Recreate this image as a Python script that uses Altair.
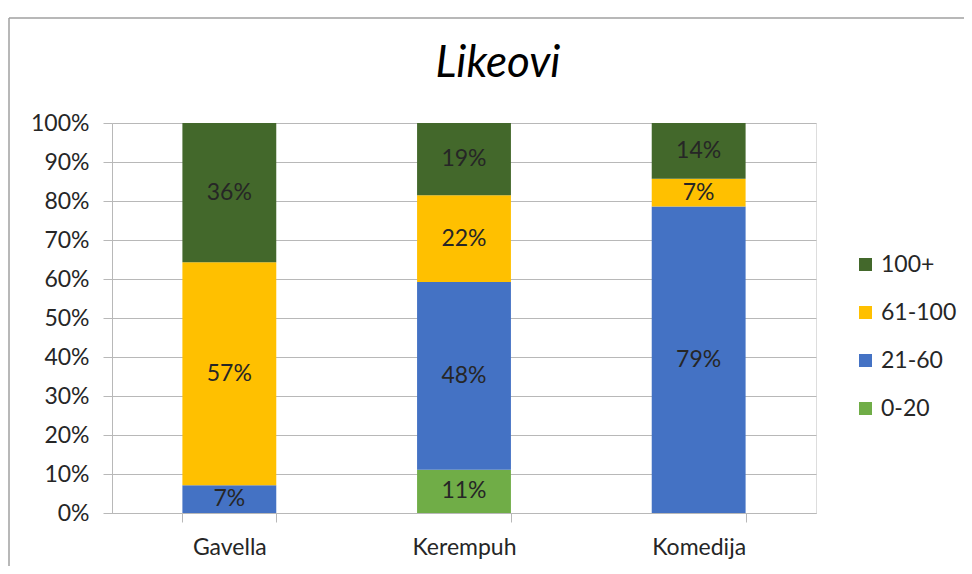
import altair as alt
import pandas as pd

theatres = ["Gavella", "Kerempuh", "Komedija"]
groups = ["0-20", "21-60", "61-100", "100+"]          # stacking order, bottom to top
legend_order = ["100+", "61-100", "21-60", "0-20"]
colors = ["#43682B", "#FFC000", "#4472C4", "#70AD47"]  # in legend order
y_ticks = [0.0, 0.1, 0.2, 0.3, 0.4, 0.5, 0.6, 0.7, 0.8, 0.9, 1.0]

# percentage share of each like-group per theatre
v_0_20 = [0.0, 11.11, 0.0]
v_21_60 = [7.14, 48.15, 78.57]
v_61_100 = [57.14, 22.22, 7.14]
v_100p = [35.71, 18.52, 14.29]

series = [v_0_20, v_21_60, v_61_100, v_100p]
rows = []
for gi, (g, vals) in enumerate(zip(groups, series)):
    for t, v in zip(theatres, vals):
        rows.append({"theatre": t, "group": g, "value": v, "ord": gi})
df = pd.DataFrame(rows)

FONT = "Lato"
TXT = "#262626"
GRID = "#B8B8B8"

base = alt.Chart(df).transform_stack(
    stack="value",
    groupby=["theatre"],
    sort=[alt.SortField("ord", order="ascending")],
    as_=["y0", "y1"],
    offset="normalize",
).transform_calculate(
    mid="(datum.y0 + datum.y1) / 2",
    label="format(datum.value / 100, '.0%')",
)

x_axis = alt.Axis(
    labelAngle=0,
    labelFont=FONT,
    labelFontSize=23,
    labelColor=TXT,
    labelPadding=14,
    domainColor=GRID,
    domainWidth=1,
    tickColor=GRID,
    tickSize=9,
    tickBand="extent",
    grid=False,
)
y_axis = alt.Axis(
    values=y_ticks,
    format=".0%",
    labelFont=FONT,
    labelFontSize=23,
    labelColor=TXT,
    labelPadding=14,
    labelOverlap=False,
    domain=True,
    domainColor=GRID,
    tickColor=GRID,
    tickSize=9,
    grid=True,
    gridColor=GRID,
    gridWidth=1,
)
x_scale = alt.Scale(paddingInner=0.6, paddingOuter=0.3)
y_scale = alt.Scale(domain=[0, 1], nice=False)

bars = base.mark_bar().encode(
    x=alt.X("theatre:N", sort=theatres, title=None, scale=x_scale, axis=x_axis),
    y=alt.Y("y0:Q", title=None, scale=y_scale, axis=y_axis),
    y2="y1:Q",
    color=alt.Color(
        "group:N",
        scale=alt.Scale(domain=legend_order, range=colors),
        legend=alt.Legend(
            title=None,
            orient="none",
            legendX=742,
            legendY=130,
            symbolType="square",
            symbolSize=169,
            symbolStrokeWidth=0,
            labelFont=FONT,
            labelFontSize=23,
            labelColor=TXT,
            labelOffset=4,
            rowPadding=24,
            padding=0,
        ),
    ),
    order=alt.Order("ord:Q"),
)

labels = base.transform_filter("datum.value > 0").mark_text(
    font=FONT, fontSize=23, color=TXT, baseline="middle", align="center"
).encode(
    x=alt.X("theatre:N", sort=theatres, title=None, scale=x_scale, axis=x_axis),
    y=alt.Y("mid:Q", title=None, scale=y_scale, axis=y_axis),
    text="label:N",
)

frame_df = pd.DataFrame({"k": [0]})
frame_top = alt.Chart(frame_df).mark_rule(color="#A0A0A0", strokeWidth=1.5).encode(
    x=alt.value(-103), x2=alt.value(860), y=alt.value(-105)
)
frame_left = alt.Chart(frame_df).mark_rule(color="#A0A0A0", strokeWidth=1.5).encode(
    x=alt.value(-103), y=alt.value(-105), y2=alt.value(451)
)

chart = alt.layer(bars, labels, frame_top, frame_left).properties(
    width=704,
    height=390,
    autosize=alt.AutoSizeParams(type="none"),
    padding={"left": 104, "top": 115, "right": 148, "bottom": 53},
    title=alt.TitleParams(
        "Likeovi",
        font=FONT,
        fontSize=44,
        fontStyle="italic",
        fontWeight="normal",
        color="#000000",
        anchor="middle",
        baseline="alphabetic",
        dx=34,
        offset=-104,
    ),
).configure_view(strokeWidth=0).configure(background="white")

chart.save("out.html", embed_options={"renderer": "svg", "actions": False})
